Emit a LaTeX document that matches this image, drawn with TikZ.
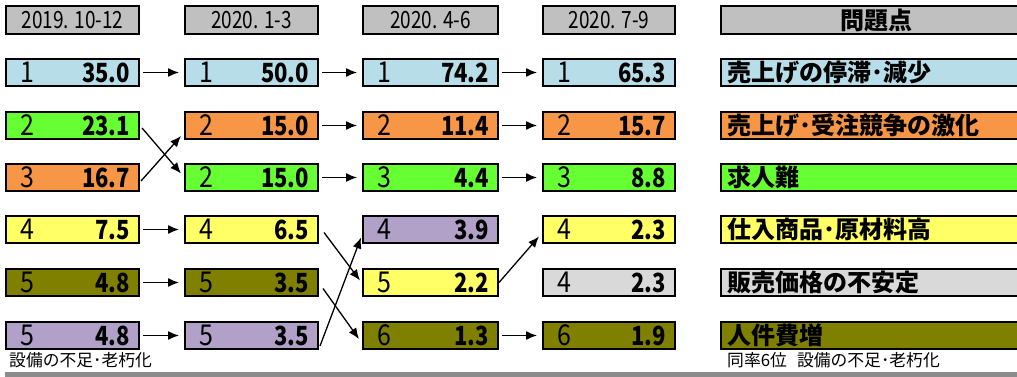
\documentclass[tikz,border=0pt]{standalone}
\usepackage{fontspec}
\usepackage{graphicx}
\newfontfamily\jp{Noto Sans CJK JP}
\usetikzlibrary{arrows.meta}
\definecolor{cblue}{RGB}{183,222,232}
\definecolor{cgreen}{RGB}{102,255,51}
\definecolor{corange}{RGB}{247,150,70}
\definecolor{cyellow}{RGB}{255,255,102}
\definecolor{colive}{RGB}{128,128,0}
\definecolor{clav}{RGB}{177,160,199}
\definecolor{clgray}{RGB}{217,217,217}
\definecolor{chead}{RGB}{192,192,192}
\definecolor{cbar}{RGB}{140,140,140}
\tikzset{
  cell/.style={draw=black, line width=2pt, anchor=north west, minimum height=27pt, inner sep=0pt, font=\jp},
  headcell/.style={cell, fill=chead, minimum height=28pt, font=\jp\fontsize{19}{19}\selectfont},
  arr/.style={line width=1.3pt, -{Latex[length=11pt,width=9pt]}, shorten <=3pt, shorten >=5pt},
  xarr/.style={line width=1.3pt, -{Latex[length=11pt,width=9pt]}},
  note/.style={anchor=north west, inner sep=0pt, font=\jp\fontsize{16.8}{17}\selectfont},
}
\newcommand\hd[1]{\scalebox{1}[1.25]{#1}}
\newcommand\cellbody[3]{\hbox to #1pt{\hspace{14pt}\scalebox{1}[1.15]{\fontsize{25}{25}\selectfont #2}\hfill\scalebox{1}[1.2]{\fontsize{22}{22}\selectfont\bfseries #3}\hspace{9pt}}}
\newcommand\probbody[1]{\hbox to 310pt{\hspace{6pt}\fontsize{24}{24}\selectfont\bfseries #1\hfill}}
\begin{document}
\begin{tikzpicture}[x=1pt,y=-1pt]
\useasboundingbox (0,0) rectangle (1017,377);
\clip (0,0) rectangle (1017,377);
% headers
\node[headcell, minimum width=133pt] (h1) at (5,5) {\hd{2019. 10-12}};
\node[headcell, minimum width=133pt] (h2) at (184,5) {\hd{2020. 1-3}};
\node[headcell, minimum width=135pt] (h3) at (362,5) {\hd{2020. 4-6}};
\node[headcell, minimum width=132pt] (h4) at (542,5) {\hd{2020. 7-9}};
\node[headcell, minimum width=310pt, font=\jp\fontsize{24}{24}\selectfont\bfseries] (h5) at (720,5) {問題点};
% column 1
\node[cell, fill=cblue, minimum width=133pt] (r1c1) at (5,58) {\cellbody{133}{1}{35.0}};
\node[cell, fill=cgreen, minimum width=133pt] (r2c1) at (5,111) {\cellbody{133}{2}{23.1}};
\node[cell, fill=corange, minimum width=133pt] (r3c1) at (5,163) {\cellbody{133}{3}{16.7}};
\node[cell, fill=cyellow, minimum width=133pt] (r4c1) at (5,215) {\cellbody{133}{4}{7.5}};
\node[cell, fill=colive, minimum width=133pt] (r5c1) at (5,268) {\cellbody{133}{5}{4.8}};
\node[cell, fill=clav, minimum width=133pt] (r6c1) at (5,321) {\cellbody{133}{5}{4.8}};
% column 2
\node[cell, fill=cblue, minimum width=133pt] (r1c2) at (184,58) {\cellbody{133}{1}{50.0}};
\node[cell, fill=corange, minimum width=133pt] (r2c2) at (184,111) {\cellbody{133}{2}{15.0}};
\node[cell, fill=cgreen, minimum width=133pt] (r3c2) at (184,163) {\cellbody{133}{2}{15.0}};
\node[cell, fill=cyellow, minimum width=133pt] (r4c2) at (184,215) {\cellbody{133}{4}{6.5}};
\node[cell, fill=colive, minimum width=133pt] (r5c2) at (184,268) {\cellbody{133}{5}{3.5}};
\node[cell, fill=clav, minimum width=133pt] (r6c2) at (184,321) {\cellbody{133}{5}{3.5}};
% column 3
\node[cell, fill=cblue, minimum width=135pt] (r1c3) at (362,58) {\cellbody{135}{1}{74.2}};
\node[cell, fill=corange, minimum width=135pt] (r2c3) at (362,111) {\cellbody{135}{2}{11.4}};
\node[cell, fill=cgreen, minimum width=135pt] (r3c3) at (362,163) {\cellbody{135}{3}{4.4}};
\node[cell, fill=clav, minimum width=135pt] (r4c3) at (362,215) {\cellbody{135}{4}{3.9}};
\node[cell, fill=cyellow, minimum width=135pt] (r5c3) at (362,268) {\cellbody{135}{5}{2.2}};
\node[cell, fill=colive, minimum width=135pt] (r6c3) at (362,321) {\cellbody{135}{6}{1.3}};
% column 4
\node[cell, fill=cblue, minimum width=132pt] (r1c4) at (542,58) {\cellbody{132}{1}{65.3}};
\node[cell, fill=corange, minimum width=132pt] (r2c4) at (542,111) {\cellbody{132}{2}{15.7}};
\node[cell, fill=cgreen, minimum width=132pt] (r3c4) at (542,163) {\cellbody{132}{3}{8.8}};
\node[cell, fill=cyellow, minimum width=132pt] (r4c4) at (542,215) {\cellbody{132}{4}{2.3}};
\node[cell, fill=clgray, minimum width=132pt] (r5c4) at (542,268) {\cellbody{132}{4}{2.3}};
\node[cell, fill=colive, minimum width=132pt] (r6c4) at (542,321) {\cellbody{132}{6}{1.9}};
% column 5
\node[cell, fill=cblue, minimum width=310pt] (r1c5) at (720,58) {\probbody{売上げの停滞･減少}};
\node[cell, fill=corange, minimum width=310pt] (r2c5) at (720,111) {\probbody{売上げ･受注競争の激化}};
\node[cell, fill=cgreen, minimum width=310pt] (r3c5) at (720,163) {\probbody{求人難}};
\node[cell, fill=cyellow, minimum width=310pt] (r4c5) at (720,215) {\probbody{仕入商品･原材料高}};
\node[cell, fill=clgray, minimum width=310pt] (r5c5) at (720,268) {\probbody{販売価格の不安定}};
\node[cell, fill=colive, minimum width=310pt] (r6c5) at (720,321) {\probbody{人件費増}};
% straight arrows
\draw[arr] (r1c1.east) -- (r1c2.west);
\draw[arr] (r4c1.east) -- (r4c2.west);
\draw[arr] (r5c1.east) -- (r5c2.west);
\draw[arr] (r6c1.east) -- (r6c2.west);
\draw[arr] (r1c2.east) -- (r1c3.west);
\draw[arr] (r2c2.east) -- (r2c3.west);
\draw[arr] (r3c2.east) -- (r3c3.west);
\draw[arr] (r1c3.east) -- (r1c4.west);
\draw[arr] (r2c3.east) -- (r2c4.west);
\draw[arr] (r3c3.east) -- (r3c4.west);
\draw[arr] (r6c3.east) -- (r6c4.west);
% crossing arrows
\draw[xarr] ([xshift=2pt,yshift=-2.5pt]r2c1.east) -- ([xshift=-3pt,yshift=4pt]r3c2.west);
\draw[xarr] ([xshift=1pt,yshift=-3.5pt]r3c1.east) -- ([xshift=-3pt,yshift=-10.5pt]r2c2.west);
\draw[xarr] ([xshift=5pt,yshift=-3pt]r4c2.east) -- ([xshift=-2pt,yshift=2pt]r5c3.west);
\draw[xarr] ([xshift=4pt,yshift=-6pt]r5c2.east) -- ([xshift=-3pt,yshift=-3.5pt]r6c3.west);
\draw[xarr] ([xshift=1pt,yshift=-10.5pt]r6c2.east) -- ([xshift=-1pt,yshift=-8pt]r4c3.west);
\draw[xarr] ([xshift=0pt,yshift=0pt]r5c3.east) -- ([xshift=-3pt,yshift=-7pt]r4c4.west);
% notes
\node[note] (n1) at (9,352) {設備の不足･老朽化};
\node[note] (n2) at (727,352) {同率6位\hspace{0.6em}設備の不足･老朽化};
% bottom bar
\fill[cbar] (5,372) rectangle (1017,377);
\end{tikzpicture}
\end{document}
